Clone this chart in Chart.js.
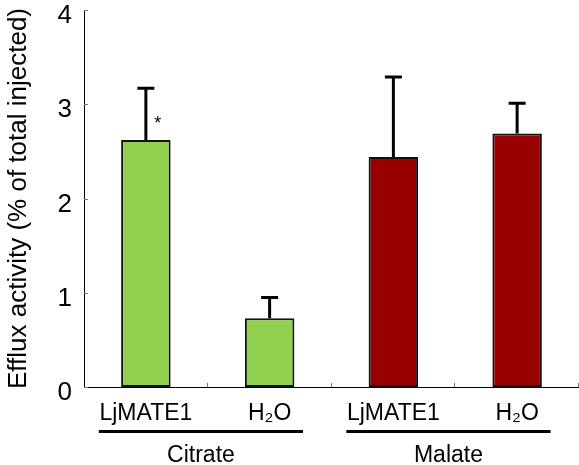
<!DOCTYPE html>
<html>
<head>
<meta charset="utf-8">
<script src="https://cdn.jsdelivr.net/npm/chart.js@4/dist/chart.umd.min.js"></script>
<style>
  body { margin: 0; background: #fff; }
  #caja { width: 579px; height: 465px; }
</style>
</head>
<body>
<div id="caja"><canvas id="miGrafico" width="579" height="465"></canvas></div>
<script>
let categorias = ["LjMATE1", "H\u2082O", "LjMATE1", "H\u2082O"]
let valores = [2.62, 0.73, 2.44, 2.69]
let errores = [0.55, 0.22, 0.85, 0.32]
let colores = ["#92D050", "#92D050", "#990000", "#990000"]
let grupos = ["Citrate", "Malate"]
let grupoInicio = [0, 2] // indice de la primera barra de cada grupo
let grupoFin = [1, 3]
let marcas = ["*", "", "", ""] // significancia
let ticksY = [0, 1, 2, 3, 4]

const fuente = "'Liberation Sans', Arial, sans-serif"

// barras de error, marcas pequeñas de los ejes y los grupos de abajo
const extras = {
  id: "extras",
  afterDatasetsDraw(chart) {
    const ctx = chart.ctx
    const x = chart.scales.x
    const y = chart.scales.y
    const meta = chart.getDatasetMeta(0)
    const area = chart.chartArea
    ctx.save()

    // ticks hacia dentro en el eje y
    ctx.strokeStyle = "#777"
    ctx.lineWidth = 1
    ticksY.forEach((t) => {
      let py = Math.round(y.getPixelForValue(t)) + 0.5
      ctx.beginPath()
      ctx.moveTo(area.left, py)
      ctx.lineTo(area.left + 4, py)
      ctx.stroke()
    })
    // ticks en los limites de categoria del eje x
    let ancho = x.getPixelForValue(1) - x.getPixelForValue(0)
    for (let i = 0; i < categorias.length; i++) {
      let px = Math.round(x.getPixelForValue(i) + ancho / 2) - 0.5
      ctx.beginPath()
      ctx.moveTo(px, area.bottom)
      ctx.lineTo(px, area.bottom - 4)
      ctx.stroke()
    }

    // barras de error (solo hacia arriba)
    ctx.strokeStyle = "#000"
    ctx.lineWidth = 3
    meta.data.forEach((bar, i) => {
      let arriba = y.getPixelForValue(valores[i] + errores[i])
      let base = y.getPixelForValue(valores[i])
      ctx.beginPath()
      ctx.moveTo(bar.x, base)
      ctx.lineTo(bar.x, arriba)
      ctx.moveTo(bar.x - 8.5, arriba)
      ctx.lineTo(bar.x + 8.5, arriba)
      ctx.stroke()

      if (marcas[i]) {
        ctx.fillStyle = "#000"
        ctx.font = "18px " + fuente
        ctx.textAlign = "center"
        ctx.textBaseline = "middle"
        ctx.fillText(marcas[i], bar.x + 12, base - 16)
      }
    })

    // lineas y nombres de los grupos
    grupos.forEach((g, k) => {
      let x1 = x.getPixelForValue(grupoInicio[k]) - ancho * 0.38
      let x2 = x.getPixelForValue(grupoFin[k]) + ancho * 0.27
      ctx.lineWidth = 3
      ctx.beginPath()
      ctx.moveTo(x1, 431.5)
      ctx.lineTo(x2, 431.5)
      ctx.stroke()
      ctx.fillStyle = "#000"
      ctx.font = "23px " + fuente
      ctx.textAlign = "center"
      ctx.textBaseline = "alphabetic"
      ctx.fillText(g, (x1 + x2) / 2, 462)
    })
    ctx.restore()
  }
}

const ctx = document.getElementById("miGrafico").getContext("2d")
const chart = new Chart(ctx, {
  type: "bar",
  data: {
    labels: categorias,
    datasets: [
      {
        data: valores,
        backgroundColor: colores,
        borderColor: "#111",
        borderWidth: 2,
        borderSkipped: false,
        barPercentage: 0.4,
        categoryPercentage: 1
      }
    ]
  },
  options: {
    responsive: false,
    animation: false,
    layout: { padding: { top: 10, right: 0, bottom: 0, left: 0 } },
    plugins: {
      legend: { display: false },
      tooltip: { enabled: false }
    },
    scales: {
      x: {
        grid: { display: false, drawTicks: false },
        border: { display: true, color: "#000", width: 1 },
        ticks: {
          color: "#000",
          font: { family: fuente, size: 23 },
          padding: 13,
          maxRotation: 0,
          autoSkip: false
        },
        afterFit(scale) {
          scale.height = 78
          scale.paddingLeft = 0
          scale.paddingRight = 0
        }
      },
      y: {
        min: 0,
        max: 4,
        grid: { display: false, drawTicks: false },
        border: { display: true, color: "#000", width: 1 },
        ticks: {
          stepSize: 1,
          color: "#000",
          font: { family: fuente, size: 26 },
          padding: 12,
          labelOffset: 6
        },
        title: {
          display: true,
          text: "Efflux activity (% of total injected)",
          color: "#000",
          font: { family: fuente, size: 26 },
          padding: { top: 3, bottom: 0 }
        },
        afterFit(scale) {
          scale.width = 84
          scale.paddingTop = 0
          scale.paddingBottom = 0
        }
      }
    }
  },
  plugins: [extras]
})
</script>
</body>
</html>
